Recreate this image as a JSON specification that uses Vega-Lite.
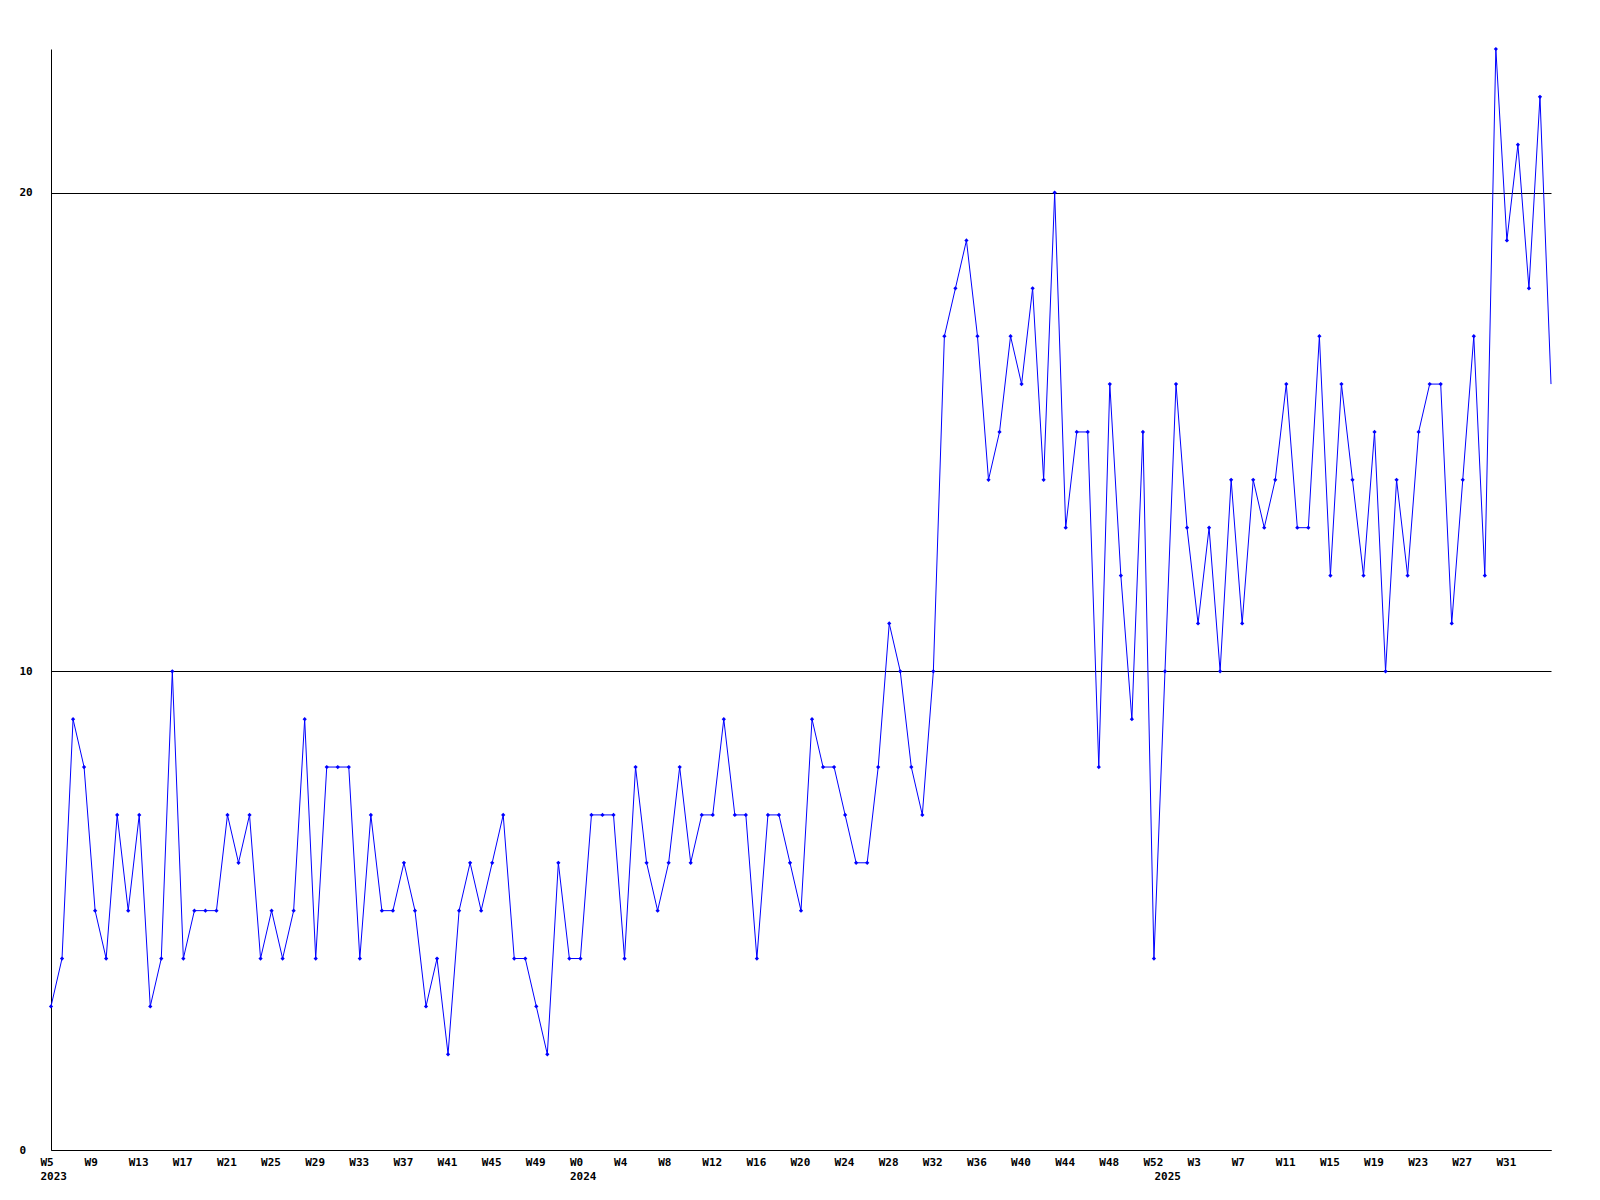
{
  "$schema": "https://vega.github.io/schema/vega-lite/v6.json",
  "width": 1500,
  "height": 1101,
  "autosize": {"type": "none"},
  "padding": {"left": 51, "top": 49, "right": 49, "bottom": 50},
  "background": "white",
  "config": {"view": {"stroke": null}},
  "data": {"values": [
    {"week": "2023-W05", "count": 3}, {"week": "2023-W06", "count": 4}, {"week": "2023-W07", "count": 9}, {"week": "2023-W08", "count": 8},
    {"week": "2023-W09", "count": 5}, {"week": "2023-W10", "count": 4}, {"week": "2023-W11", "count": 7}, {"week": "2023-W12", "count": 5},
    {"week": "2023-W13", "count": 7}, {"week": "2023-W14", "count": 3}, {"week": "2023-W15", "count": 4}, {"week": "2023-W16", "count": 10},
    {"week": "2023-W17", "count": 4}, {"week": "2023-W18", "count": 5}, {"week": "2023-W19", "count": 5}, {"week": "2023-W20", "count": 5},
    {"week": "2023-W21", "count": 7}, {"week": "2023-W22", "count": 6}, {"week": "2023-W23", "count": 7}, {"week": "2023-W24", "count": 4},
    {"week": "2023-W25", "count": 5}, {"week": "2023-W26", "count": 4}, {"week": "2023-W27", "count": 5}, {"week": "2023-W28", "count": 9},
    {"week": "2023-W29", "count": 4}, {"week": "2023-W30", "count": 8}, {"week": "2023-W31", "count": 8}, {"week": "2023-W32", "count": 8},
    {"week": "2023-W33", "count": 4}, {"week": "2023-W34", "count": 7}, {"week": "2023-W35", "count": 5}, {"week": "2023-W36", "count": 5},
    {"week": "2023-W37", "count": 6}, {"week": "2023-W38", "count": 5}, {"week": "2023-W39", "count": 3}, {"week": "2023-W40", "count": 4},
    {"week": "2023-W41", "count": 2}, {"week": "2023-W42", "count": 5}, {"week": "2023-W43", "count": 6}, {"week": "2023-W44", "count": 5},
    {"week": "2023-W45", "count": 6}, {"week": "2023-W46", "count": 7}, {"week": "2023-W47", "count": 4}, {"week": "2023-W48", "count": 4},
    {"week": "2023-W49", "count": 3}, {"week": "2023-W50", "count": 2}, {"week": "2023-W51", "count": 6}, {"week": "2023-W52", "count": 4},
    {"week": "2024-W00", "count": 4}, {"week": "2024-W01", "count": 7}, {"week": "2024-W02", "count": 7}, {"week": "2024-W03", "count": 7},
    {"week": "2024-W04", "count": 4}, {"week": "2024-W05", "count": 8}, {"week": "2024-W06", "count": 6}, {"week": "2024-W07", "count": 5},
    {"week": "2024-W08", "count": 6}, {"week": "2024-W09", "count": 8}, {"week": "2024-W10", "count": 6}, {"week": "2024-W11", "count": 7},
    {"week": "2024-W12", "count": 7}, {"week": "2024-W13", "count": 9}, {"week": "2024-W14", "count": 7}, {"week": "2024-W15", "count": 7},
    {"week": "2024-W16", "count": 4}, {"week": "2024-W17", "count": 7}, {"week": "2024-W18", "count": 7}, {"week": "2024-W19", "count": 6},
    {"week": "2024-W20", "count": 5}, {"week": "2024-W21", "count": 9}, {"week": "2024-W22", "count": 8}, {"week": "2024-W23", "count": 8},
    {"week": "2024-W24", "count": 7}, {"week": "2024-W25", "count": 6}, {"week": "2024-W26", "count": 6}, {"week": "2024-W27", "count": 8},
    {"week": "2024-W28", "count": 11}, {"week": "2024-W29", "count": 10}, {"week": "2024-W30", "count": 8}, {"week": "2024-W31", "count": 7},
    {"week": "2024-W32", "count": 10}, {"week": "2024-W33", "count": 17}, {"week": "2024-W34", "count": 18}, {"week": "2024-W35", "count": 19},
    {"week": "2024-W36", "count": 17}, {"week": "2024-W37", "count": 14}, {"week": "2024-W38", "count": 15}, {"week": "2024-W39", "count": 17},
    {"week": "2024-W40", "count": 16}, {"week": "2024-W41", "count": 18}, {"week": "2024-W42", "count": 14}, {"week": "2024-W43", "count": 20},
    {"week": "2024-W44", "count": 13}, {"week": "2024-W45", "count": 15}, {"week": "2024-W46", "count": 15}, {"week": "2024-W47", "count": 8},
    {"week": "2024-W48", "count": 16}, {"week": "2024-W49", "count": 12}, {"week": "2024-W50", "count": 9}, {"week": "2024-W51", "count": 15},
    {"week": "2024-W52", "count": 4},
    {"week": "2025-W00", "count": 10}, {"week": "2025-W01", "count": 16}, {"week": "2025-W02", "count": 13}, {"week": "2025-W03", "count": 11},
    {"week": "2025-W04", "count": 13}, {"week": "2025-W05", "count": 10}, {"week": "2025-W06", "count": 14}, {"week": "2025-W07", "count": 11},
    {"week": "2025-W08", "count": 14}, {"week": "2025-W09", "count": 13}, {"week": "2025-W10", "count": 14}, {"week": "2025-W11", "count": 16},
    {"week": "2025-W12", "count": 13}, {"week": "2025-W13", "count": 13}, {"week": "2025-W14", "count": 17}, {"week": "2025-W15", "count": 12},
    {"week": "2025-W16", "count": 16}, {"week": "2025-W17", "count": 14}, {"week": "2025-W18", "count": 12}, {"week": "2025-W19", "count": 15},
    {"week": "2025-W20", "count": 10}, {"week": "2025-W21", "count": 14}, {"week": "2025-W22", "count": 12}, {"week": "2025-W23", "count": 15},
    {"week": "2025-W24", "count": 16}, {"week": "2025-W25", "count": 16}, {"week": "2025-W26", "count": 11}, {"week": "2025-W27", "count": 14},
    {"week": "2025-W28", "count": 17}, {"week": "2025-W29", "count": 12}, {"week": "2025-W30", "count": 23}, {"week": "2025-W31", "count": 19},
    {"week": "2025-W32", "count": 21}, {"week": "2025-W33", "count": 18}, {"week": "2025-W34", "count": 22}, {"week": "2025-W35", "count": 16}
  ]},
  "encoding": {
    "x": {
      "field": "week", "type": "ordinal",
      "scale": {"type": "point", "padding": 0},
      "axis": {
        "title": null,
        "values": ["2023-W05", "2023-W09", "2023-W13", "2023-W17", "2023-W21", "2023-W25", "2023-W29", "2023-W33", "2023-W37", "2023-W41", "2023-W45", "2023-W49",
                   "2024-W00", "2024-W04", "2024-W08", "2024-W12", "2024-W16", "2024-W20", "2024-W24", "2024-W28", "2024-W32", "2024-W36", "2024-W40", "2024-W44", "2024-W48", "2024-W52",
                   "2025-W00", "2025-W03", "2025-W07", "2025-W11", "2025-W15", "2025-W19", "2025-W23", "2025-W27", "2025-W31"],
        "labelExpr": "datum.value == '2023-W05' ? ['W5', '2023'] : datum.value == '2024-W00' ? ['W0', '2024'] : datum.value == '2025-W00' ? ['', '2025'] : 'W' + toNumber(substring(datum.value, 6))",
        "ticks": false, "tickSize": 0, "grid": false,
        "domainColor": "black", "domainWidth": 1,
        "labelAngle": 0, "labelAlign": "left", "labelOffset": -11, "labelBaseline": "top",
        "labelPadding": 6, "labelLineHeight": 14,
        "labelFont": "DejaVu Sans Mono", "labelFontWeight": "bold", "labelFontSize": 11, "labelColor": "black",
        "labelOverlap": false, "labelFlush": false, "labelBound": false
      }
    },
    "y": {
      "field": "count", "type": "quantitative",
      "scale": {"domain": [0, 23], "nice": false, "zero": true},
      "axis": {
        "title": null, "values": [0, 10, 20],
        "grid": true, "gridColor": "black", "gridOpacity": 1, "gridWidth": 1,
        "ticks": false, "tickSize": 0,
        "domainColor": "black", "domainWidth": 1,
        "labelAlign": "left", "labelBaseline": "middle", "labelPadding": 32,
        "labelFont": "DejaVu Sans Mono", "labelFontWeight": "bold", "labelFontSize": 11, "labelColor": "black",
        "labelOverlap": false, "labelFlush": false, "labelBound": false
      }
    }
  },
  "layer": [
    {"mark": {"type": "line", "color": "#0000ff", "strokeWidth": 1}},
    {"transform": [{"filter": "datum.week != '2025-W35'"}],
     "mark": {"type": "point", "shape": "diamond", "filled": true, "color": "#0000ff", "size": 18, "opacity": 1}}
  ]
}
